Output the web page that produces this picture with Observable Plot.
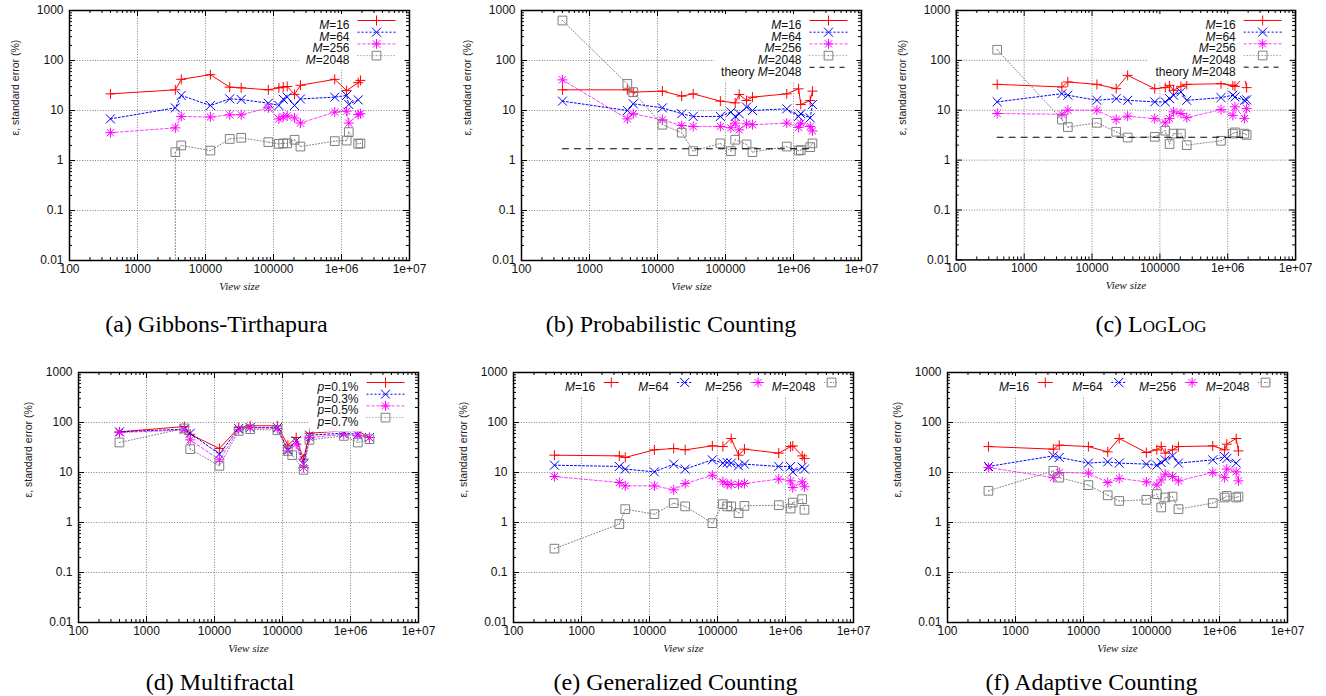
<!DOCTYPE html>
<html><head><meta charset="utf-8">
<script src="https://cdn.jsdelivr.net/npm/d3@7"></script>
<script src="https://cdn.jsdelivr.net/npm/@observablehq/plot@0.6"></script>
<style>
body{margin:0;background:#fff;overflow:hidden;}
#wrap{position:relative;width:1326px;height:696px;background:#fff;}
.panel{position:absolute;}
.cap{position:absolute;font-family:"Liberation Serif","Times New Roman",serif;font-size:24px;line-height:24px;white-space:nowrap;text-align:center;width:400px;color:#000;}
.sc{font-variant:small-caps;}
</style></head><body><div id="wrap"></div>
<script>
// ---------- data ----------
const VIEW = [400, 3600, 4400, 11800, 22700, 33500, 84000, 120000, 139000, 159000, 204000, 249000, 796000, 1190000, 1280000, 1760000, 1900000];

const A_M16   = [21.5, 25.9, 42, 52, 29.3, 28.4, 25.9, 28.4, 29.5, 30.2, 21, 32, 42, 25, null, 36, 40];
const A_M64   = [6.8, 11.3, 20, 12.6, 17.1, 16.6, 14, 12.6, 16.8, 18.5, 12.6, 17, 18.5, 20, 13.2, 16.3, null];
const A_M256  = [3.6, 4.5, 7.6, 7.4, 8.2, 8.2, 11.3, 6.8, 7.5, 7.8, 7.1, 5.6, 9.3, 9.7, 5.6, 8.3, 8.6];
const A_M2048 = [null, 1.47, 2.0, 1.58, 2.7, 2.84, 2.33, 2.15, 2.2, 2.2, 2.6, 1.9, 2.44, 2.5, 3.7, 2.15, 2.2];
const A_M2048_LEAD = [[3600, 0]]; // a zero-error reading, drawn off-scale

const B_M16   = [25.9, 25.9, 23.3, 24.4, 19.4, 21.5, 15.4, null, 14.2, 20.9, 15.8, 18.5, 21.5, 27.1, 13.2, 15.8, 24.4];
const B_M64   = [15.4, 10, 13.6, 11.3, 8.6, 7.6, 7.6, 9.3, 7.6, 8.6, 11.7, 10, 10.8, 7.6, 8.6, 7.1, 13.2];
const B_M256  = [41, 6.8, 8.6, 6.5, 5.0, 4.8, 4.8, 4.5, 5.6, 4.1, 5.4, 5.2, 5.6, 4.6, 5.6, 4.8, 3.9];
const B_M2048 = [631, 34, 23.3, 5.2, 3.6, 1.54, 2.2, 1.54, 2.6, null, 2.1, 1.47, 1.9, 1.58, 1.62, 1.85, 2.2];
const B_THEORY = 1.72;

const C_M16   = [33, 29.3, 36.9, 33, 27.1, 50, 27.1, 28.4, 31.6, 25.1, 30.2, 33, 34, 31.6, 30, 47.9, 28.4];
const C_M64   = [14.7, 21.5, 20, 15.8, 17.1, 15.8, 14.7, 14.7, 17.1, 20, 23.3, 15.8, 17.9, 20, 18.5, 15.8, 16.2];
const C_M256  = [8.6, 8.3, 10, 10, 6.5, 7.6, 6.8, 5.6, 6.8, 9.3, 8.6, 7.1, 10.3, 7.9, 11.7, 6.8, 10.8];
const C_M2048 = [163, 6.5, 4.6, 5.6, 3.7, 2.84, 2.93, 3.9, 2.1, 3.4, 3.4, 2.0, 2.44, 3.4, 3.6, 3.4, 3.2];
const C_THEORY = 2.87;

const D_P01 = [65, 83, 58, 30.2, 79, 86, 86, 35.2, null, 50, 18.5, 61, 68, null, 68, null, 50];
const D_P03 = [65, 73.6, 61, 23.3, 75.9, 79, 79, 28.4, null, 43, 14.7, 55.8, 61, null, 58, null, 50];
const D_P05 = [63, 71, 45, 17.9, 72, 79, 76, 27, null, 36.9, 12.6, 50, 58, null, 54, null, 50];
const D_P07 = [39.8, 76, 29.3, 13.6, 68, 73.6, 70, 27, 22.2, null, 11.3, 45, 54, null, 39.8, null, 46.4];

const E_M16   = [22.2, 21.5, 20, 28.4, 30.2, 28.4, 34.1, 33, null, 47.9, 22.2, 29.3, 24.4, 33, 34, 21.5, 19];
const E_M64   = [14, 13.2, 11.7, 10.3, 14.7, 11.7, 17.9, 15.4, 15.8, 15.4, 13.6, 14.7, 13.2, 13.2, 10.3, 12.8, 11.7];
const E_M256  = [8.3, 6.3, 5.4, 5.4, 4.5, 6.0, 8.8, 6.5, 5.8, 5.8, 5.8, 6.0, 7.4, 6.8, 5.0, 6.5, 5.2];
const E_M2048 = [0.30, 0.93, 1.85, 1.47, 2.44, 2.1, 0.97, 2.33, 2.1, 2.1, 1.54, 2.15, 2.22, 1.9, 2.5, 2.93, 1.8];

const F_M16   = [33, 29.3, 35.2, 33, 25.9, 47.9, 25.1, 28.4, 33, 24.4, 28.4, 33, 34, 28.4, 36.9, 47.9, 27];
const F_M64   = [13.2, 21.5, 20, 15.4, 16.3, 15.4, 14.7, 14, 15.8, 17.9, 21.5, 15.4, 17.9, 20.9, 19, 15.4, null];
const F_M256  = [12.6, 7.9, 10, 9.7, 6.3, 7.6, 6.5, 5.6, 7.1, 9.3, 8.3, 6.8, 10, 7.9, 11.7, 10.3, 6.8];
const F_M2048 = [4.3, 10.8, 7.9, 5.6, 3.5, 2.7, 2.84, 3.7, 2.0, 3.16, 3.3, 1.85, 2.44, 3.16, 3.4, 3.16, 3.3];

const M_LABELS = ["M=16", "M=64", "M=256", "M=2048"];
const P_LABELS = ["p=0.1%", "p=0.3%", "p=0.5%", "p=0.7%"];
const THEORY_LABEL = "theory M=2048";
const Y_TITLE = "ε, standard error (%)";
const X_TITLE = "View size";

const XMAJOR = [100, 1e3, 1e4, 1e5, 1e6, 1e7];
const YMAJOR = [0.01, 0.1, 1, 10, 100, 1000];
const XGRID = [1e3, 1e4, 1e5, 1e6];
const YGRID = [0.1, 1, 10, 100];
const MINOR_MULT = [2, 3, 4, 5, 6, 7, 8, 9];
const XMINOR = XMAJOR.slice(0, -1).flatMap(d => MINOR_MULT.map(k => d * k));
const YMINOR = YMAJOR.slice(0, -1).flatMap(d => MINOR_MULT.map(k => +(d * k).toPrecision(3)));

// ---------- symbols ----------
const rOf = s => Math.sqrt(s / Math.PI);
const symPlus = {draw(c, s) {const r = rOf(s); c.moveTo(-r, 0); c.lineTo(r, 0); c.moveTo(0, -r); c.lineTo(0, r);}};
const symTimes = {draw(c, s) {const r = rOf(s) * 0.9; c.moveTo(-r, -r); c.lineTo(r, r); c.moveTo(-r, r); c.lineTo(r, -r);}};
const symAst = {draw(c, s) {const r = rOf(s); const q = r * 0.72; c.moveTo(-r, 0); c.lineTo(r, 0); c.moveTo(0, -r); c.lineTo(0, r); c.moveTo(-q, -q); c.lineTo(q, q); c.moveTo(-q, q); c.lineTo(q, -q);}};
const symSquare = {draw(c, s) {const r = rOf(s) * 0.87; c.moveTo(-r, -r); c.lineTo(r, -r); c.lineTo(r, r); c.lineTo(-r, r); c.closePath(); c.moveTo(-0.4, 0); c.lineTo(0.4, 0);}};
const symHLine = {draw(c, s) {const r = rOf(s); c.moveTo(-r, 0); c.lineTo(r, 0);}};

const STYLES = [
  {stroke: "#ff0000", dash: null, sym: symPlus, op: 1},
  {stroke: "#0000ff", dash: "2,2", sym: symTimes, op: 1},
  {stroke: "#ff00ff", dash: "3,2", sym: symAst, op: 0.75},
  {stroke: "#7f7f7f", dash: "1,2", sym: symSquare, op: 1}
];

const PANELS = [
  {left: 0, top: 0, series: [A_M16, A_M64, A_M256, A_M2048], lead: [null, null, null, A_M2048_LEAD], labels: M_LABELS, legend: "v", theory: null, cap: "(a) Gibbons-Tirthapura", capX: 216.5, capTop: 312, ylabDx: -54},
  {left: 452.3, top: 0, series: [B_M16, B_M64, B_M256, B_M2048], labels: M_LABELS, legend: "v", theory: B_THEORY, cap: "(b) Probabilistic Counting", capX: 671, capTop: 312, ylabDx: -54},
  {left: 887, top: 0, series: [C_M16, C_M64, C_M256, C_M2048], labels: M_LABELS, legend: "v", theory: C_THEORY, cap: '(c) L<span class="sc">og</span>L<span class="sc">og</span>', capX: 1151, capTop: 312, ylabDx: -54},
  {left: 9, top: 361.7, series: [D_P01, D_P03, D_P05, D_P07], labels: P_LABELS, legend: "v", theory: null, cap: "(d) Multifractal", capX: 220, capTop: 670, ylabDx: -50},
  {left: 443.7, top: 361.7, series: [E_M16, E_M64, E_M256, E_M2048], labels: M_LABELS, legend: "h", theory: null, cap: "(e) Generalized Counting", capX: 675.5, capTop: 670, ylabDx: -50},
  {left: 878, top: 361.7, series: [F_M16, F_M64, F_M256, F_M2048], labels: M_LABELS, legend: "h", theory: null, cap: "(f) Adaptive Counting", capX: 1091.5, capTop: 670, ylabDx: -50}
];

const fmtX = d => d >= 1e6 ? d3.format(".0e")(d).replace(/e\+(\d)$/, "e+0$1") : String(d);
const fmtY = d => String(d);

function rowsOf(vals, lead) {
  const r = [];
  if (lead) lead.forEach(([x, y]) => r.push({x, y: y > 0 ? y : 1e-4}));
  vals.forEach((v, i) => { if (v != null) r.push({x: VIEW[i], y: v}); });
  return r;
}

const PW = 340, PH = 250;
const wrap = document.getElementById("wrap");

PANELS.forEach(p => {
  const marks = [];
  marks.push(Plot.ruleX(XGRID, {x: d => d, stroke: "#808080", strokeDasharray: "1,1.6", strokeWidth: 1}));
  marks.push(Plot.ruleY(YGRID, {y: d => d, stroke: "#808080", strokeDasharray: "1,1.6", strokeWidth: 1}));

  p.series.forEach((vals, i) => {
    const st = STYLES[i];
    const rows = rowsOf(vals, p.lead ? p.lead[i] : null);
    marks.push(Plot.line(rows, {x: "x", y: "y", stroke: st.stroke, strokeWidth: 1, strokeDasharray: st.dash, strokeOpacity: st.op, clip: true}));
    marks.push(Plot.dot(rows.filter(r => r.y >= 0.01), {x: "x", y: "y", symbol: st.sym, r: 5, fill: "none", stroke: st.stroke, strokeWidth: 1, clip: true}));
  });
  if (p.theory != null) {
    const tr = [{x: VIEW[0], y: p.theory}, {x: VIEW[VIEW.length - 1], y: p.theory}];
    marks.push(Plot.line(tr, {x: "x", y: "y", stroke: "#000", strokeWidth: 1.1, strokeDasharray: "6,6"}));
  }

  // ticks (inward, mirrored)
  marks.push(Plot.tickX(XMAJOR, {x: d => d, stroke: "#000", insetTop: PH - 6}));
  marks.push(Plot.tickX(XMAJOR, {x: d => d, stroke: "#000", insetBottom: PH - 6}));
  marks.push(Plot.tickX(XMINOR, {x: d => d, stroke: "#000", insetTop: PH - 3}));
  marks.push(Plot.tickX(XMINOR, {x: d => d, stroke: "#000", insetBottom: PH - 3}));
  marks.push(Plot.tickY(YMAJOR, {y: d => d, stroke: "#000", insetRight: PW - 6}));
  marks.push(Plot.tickY(YMAJOR, {y: d => d, stroke: "#000", insetLeft: PW - 6}));
  marks.push(Plot.tickY(YMINOR, {y: d => d, stroke: "#000", insetRight: PW - 3}));
  marks.push(Plot.tickY(YMINOR, {y: d => d, stroke: "#000", insetLeft: PW - 3}));
  marks.push(Plot.frame({stroke: "#000", strokeWidth: 1.5}));

  // tick labels and titles
  marks.push(Plot.text(XMAJOR, {x: d => d, frameAnchor: "bottom", dy: 12, text: fmtX, fontSize: 12, fill: "#111"}));
  marks.push(Plot.text(YMAJOR, {y: d => d, frameAnchor: "left", dx: -6, textAnchor: "end", text: fmtY, fontSize: 12, fill: "#111"}));
  marks.push(Plot.text([Y_TITLE], {frameAnchor: "left", dx: p.ylabDx, rotate: -90, text: d => d, fontSize: 10.5, fill: "#222"}));
  marks.push(Plot.text([X_TITLE], {frameAnchor: "bottom", dy: 29, text: d => d, fontSize: 11, fontStyle: "italic", fontFamily: "'Liberation Serif', 'Times New Roman', serif", fill: "#111"}));

  // legend
  const labs = p.labels.slice();
  const styles = STYLES.slice(0, 4).map(s => ({...s}));
  if (p.theory != null) { labs.push(THEORY_LABEL); styles.push({stroke: "#000", dash: "5,5", sym: null, op: 1}); }
  labs.forEach((lab, i) => {
    const st = styles[i];
    let tdx, mdx, dy, half;
    if (p.legend === "v") { tdx = -60; mdx = -33; dy = 10 + 11.7 * i; half = 19; }
    else { tdx = -38 - 73.4 * (3 - i); mdx = tdx + 16; dy = 10; half = 7.5; }
    marks.push(Plot.text([lab], {frameAnchor: "top-right", dx: tdx, dy, textAnchor: "end", text: d => d, fontSize: 12, fill: "#111", className: "legtxt"}));
    marks.push(Plot.dot([0], {frameAnchor: "top-right", dx: mdx, dy, symbol: symHLine, r: half, fill: "none", stroke: st.stroke, strokeWidth: 1, strokeDasharray: st.dash, strokeOpacity: st.op, className: "legsym"}));
    if (st.sym) marks.push(Plot.dot([0], {frameAnchor: "top-right", dx: mdx, dy, symbol: st.sym, r: 5, fill: "none", stroke: st.stroke, strokeWidth: 1, className: "legsym"}));
  });

  const chart = Plot.plot({
    width: 440, height: 300,
    marginLeft: 69, marginRight: 31, marginTop: 10, marginBottom: 40,
    x: {type: "log", domain: [100, 1e7], axis: null},
    y: {type: "log", domain: [0.01, 1000], axis: null},
    style: {fontFamily: "'Liberation Sans', Arial, Helvetica, sans-serif", fontSize: "12px", background: "transparent", overflow: "visible"},
    marks
  });
  const holder = document.createElement("div");
  holder.className = "panel";
  holder.style.left = p.left + "px";
  holder.style.top = p.top + "px";
  holder.appendChild(chart);
  wrap.appendChild(holder);

  const svg = chart.tagName.toLowerCase() === "svg" ? chart : chart.querySelector("svg");
  const ns = "http://www.w3.org/2000/svg";
  // italic variable names in legend text
  svg.querySelectorAll("g.legtxt text").forEach(t => {
    const m = t.textContent.match(/^(.*?)([Mp])(=.*)$/);
    if (!m) return;
    t.textContent = "";
    if (m[1]) { const a = document.createElementNS(ns, "tspan"); a.textContent = m[1]; t.appendChild(a); }
    const b = document.createElementNS(ns, "tspan"); b.setAttribute("font-style", "italic"); b.textContent = m[2]; t.appendChild(b);
    const c = document.createElementNS(ns, "tspan"); c.textContent = m[3]; t.appendChild(c);
  });
  // opaque legend box
  const gs = svg.querySelectorAll("g.legtxt, g.legsym");
  if (gs.length) {
    const sr = svg.getBoundingClientRect();
    let x0 = Infinity, y0 = Infinity, x1 = -Infinity, y1 = -Infinity;
    gs.forEach(g => { const r = g.getBoundingClientRect(); x0 = Math.min(x0, r.left); y0 = Math.min(y0, r.top); x1 = Math.max(x1, r.right); y1 = Math.max(y1, r.bottom); });
    const rect = document.createElementNS(ns, "rect");
    rect.setAttribute("x", x0 - sr.left - 7);
    rect.setAttribute("y", y0 - sr.top - 1.5);
    rect.setAttribute("width", x1 - x0 + 16);
    rect.setAttribute("height", y1 - y0 + 4);
    rect.setAttribute("fill", "#fff");
    svg.insertBefore(rect, gs[0]);
  }

  const cap = document.createElement("div");
  cap.className = "cap";
  cap.style.left = (p.capX - 200) + "px";
  cap.style.top = p.capTop + "px";
  cap.innerHTML = p.cap;
  wrap.appendChild(cap);
});
</script>
</body></html>
